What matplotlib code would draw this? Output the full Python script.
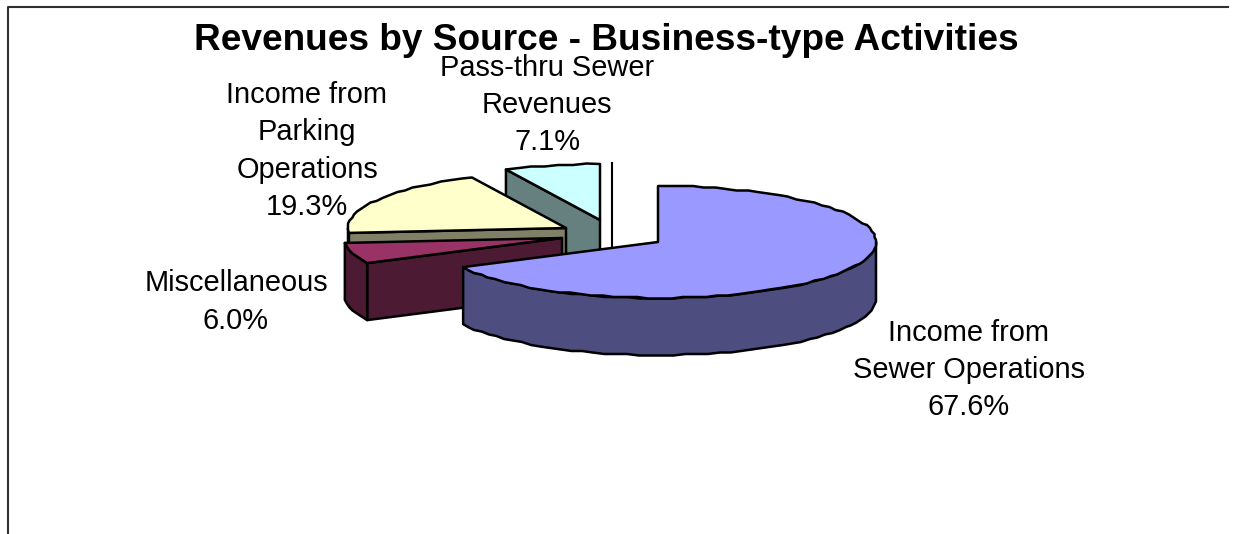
import numpy as np
import matplotlib
matplotlib.use('Agg')
import matplotlib.pyplot as plt
from matplotlib.patches import Polygon

plt.rcParams['font.family'] = ['Liberation Sans', 'DejaVu Sans']

title = 'Revenues by Source - Business-type Activities'
names = ['Income from\nSewer Operations', 'Miscellaneous', 'Income from\nParking\nOperations', 'Pass-thru Sewer\nRevenues']
values = [67.6, 6.0, 19.3, 7.1]

top_colors = ['#9999FF', '#993366', '#FFFFCC', '#CCFFFF']
side_colors = ['#4D4D80', '#4D1A33', '#808066', '#668080']
apex = [(658, 242), (562, 238), (566, 228), (600, 220)]
label_pos = [(969, 370), (236, 302), (307, 151), (547, 105)]
draw_order = [3, 2, 1, 0]

RX, RY, DEPTH = 218, 56, 57
GRID = 1.5  # the source outline is snapped to a coarse grid, that gives the wobbly edge

W, H = 1235, 534
fig = plt.figure(figsize=(W / 100, H / 100), dpi=100)
ax = fig.add_axes([0, 0, 1, 1])
ax.set_xlim(0, W)
ax.set_ylim(H, 0)
ax.axis('off')

# chart frame
ax.plot([8, 8, 1228], [H, 6.5, 6.5], color='#303030', lw=1.5, zorder=1)


def rim(cx, cy, a0, a1):
    t = np.radians(np.linspace(a0, a1, max(int((a1 - a0) / 3), 2)))
    pts = np.column_stack([cx + RX * np.sin(t), cy - RY * np.cos(t)])
    snapped = np.round(pts / GRID) * GRID
    snapped[0], snapped[-1] = pts[0], pts[-1]
    return snapped


def add_poly(pts, color, z):
    ax.add_patch(Polygon(pts, closed=True, fc=color, ec='black', lw=1.8, joinstyle='round', zorder=z))


ends = np.cumsum(values) / sum(values) * 360
starts = np.r_[0, ends[:-1]]

# black line behind the big slice
ax.plot([612, 612], [163, 250], color='black', lw=1.5, zorder=2)

for n, i in enumerate(draw_order):
    cx, cy = apex[i]
    a0, a1 = starts[i], ends[i]
    z = 3 + n
    apex_pt = np.array([cx, cy])
    down = np.array([0, DEPTH])

    # wall on the start edge of the slice, faces the viewer on the left half
    if np.sin(np.radians(a0)) < 0:
        p = rim(cx, cy, a0, a0 + 1)[0]
        add_poly([apex_pt, p, p + down, apex_pt + down], side_colors[i], z)

    # outer rim, lower half of the ellipse
    lo, hi = max(a0, 90), min(a1, 270)
    if hi > lo:
        r = rim(cx, cy, lo, hi)
        add_poly(np.vstack([r, (r + down)[::-1]]), side_colors[i], z)

    add_poly(np.vstack([[apex_pt], rim(cx, cy, a0, a1)]), top_colors[i], z + 0.5)

for i, (x, y) in enumerate(label_pos):
    ax.text(x, y, f'{names[i]}\n{values[i]:.1f}%', ha='center', va='center', fontsize=20.85,
            linespacing=1.42, color='black', zorder=20)

ax.text(606.5, 40, title, ha='center', va='center', fontsize=26.65, fontweight='bold', color='black', zorder=21)

fig.savefig('out.png', dpi=100, facecolor='white')
